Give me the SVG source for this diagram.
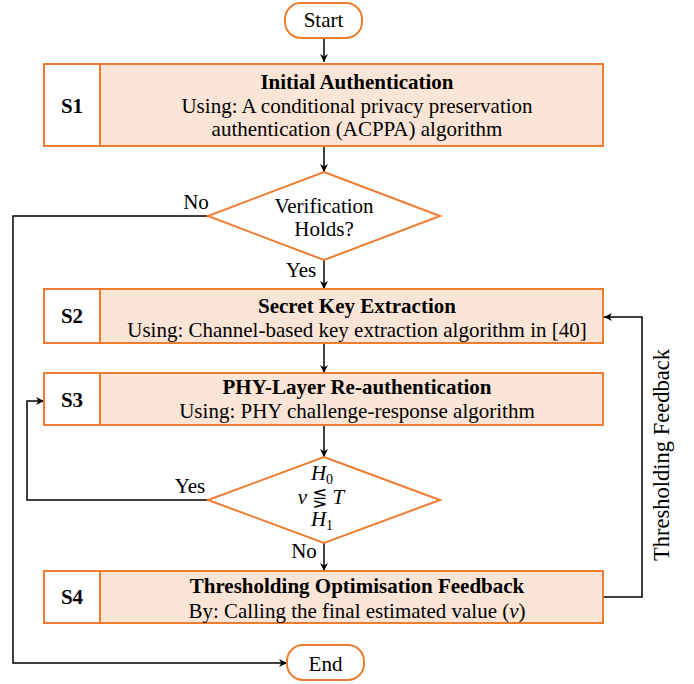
<svg xmlns="http://www.w3.org/2000/svg" width="694" height="684" viewBox="0 0 694 684">
<style>
text{font-family:"Liberation Serif","Times New Roman",serif;font-size:21px;fill:#000}
.b{font-weight:bold}
.m{text-anchor:middle}
.box{fill:#FBE5D6;stroke:#ED7D31;stroke-width:2}
.lab{fill:#fff;stroke:#ED7D31;stroke-width:2}
.term{fill:#fff;stroke:#ED7D31;stroke-width:2}
.dia{fill:#fff;stroke:#ED7D31;stroke-width:2}
.c{fill:none;stroke:#000;stroke-width:1.5}
.i{font-style:italic}
.sym{font-family:"DejaVu Serif","DejaVu Sans",serif;font-size:18px}
</style>
<defs>
<marker id="ar" viewBox="0 0 10 10" refX="10" refY="5" markerWidth="8" markerHeight="8" orient="auto" markerUnits="userSpaceOnUse">
<path d="M0,0 L10,5 L0,10 L3,5 z" fill="#000"/>
</marker>
</defs>
<g id="connectors">
<path class="c" d="M324,38 V62" marker-end="url(#ar)"/>
<path class="c" d="M324,146 V172" marker-end="url(#ar)"/>
<path class="c" d="M324,260 V289" marker-end="url(#ar)"/>
<path class="c" d="M324,343 V373" marker-end="url(#ar)"/>
<path class="c" d="M324,425 V457" marker-end="url(#ar)"/>
<path class="c" d="M324,543 V571" marker-end="url(#ar)"/>
<path class="c" d="M208,216 H13 V663 H287" marker-end="url(#ar)"/>
<path class="c" d="M208,500 H27 V401 H44" marker-end="url(#ar)"/>
<path class="c" d="M603,597 H642 V317 H604" marker-end="url(#ar)"/>
<text x="196" y="209" class="m">No</text>
<text x="301" y="277" class="m">Yes</text>
<text x="190" y="493" class="m">Yes</text>
<text x="304" y="558" class="m">No</text>
<text class="m" font-size="22.5" style="font-size:22.5px" transform="translate(669,455) rotate(-90)">Thresholding Feedback</text>
</g>
<g id="start">
<rect class="term" x="285" y="3" width="77" height="35" rx="16"/>
<text x="323.5" y="27" class="m">Start</text>
</g>
<g id="s1">
<rect class="box" x="44" y="64" width="559" height="82"/>
<rect class="lab" x="44" y="64" width="56" height="82"/>
<text x="72" y="113" class="m b">S1</text>
<text x="357" y="89" class="m b">Initial Authentication</text>
<text x="357" y="113" class="m">Using: A conditional privacy preservation</text>
<text x="357" y="136" class="m">authentication (ACPPA) algorithm</text>
</g>
<g id="d1">
<path class="dia" d="M324,172 L440,216 L324,260 L208,216 z"/>
<text x="324" y="213" class="m">Verification</text>
<text x="324" y="236" class="m">Holds?</text>
</g>
<g id="s2">
<rect class="box" x="44" y="289" width="559" height="54"/>
<rect class="lab" x="44" y="289" width="56" height="54"/>
<text x="72" y="323" class="m b">S2</text>
<text x="357" y="313" class="m b">Secret Key Extraction</text>
<text x="357" y="337" class="m">Using: Channel-based key extraction algorithm in [40]</text>
</g>
<g id="s3">
<rect class="box" x="44" y="373" width="559" height="52"/>
<rect class="lab" x="44" y="373" width="56" height="52"/>
<text x="72" y="407" class="m b">S3</text>
<text x="357" y="394" class="m b">PHY-Layer Re-authentication</text>
<text x="357" y="418" class="m">Using: PHY challenge-response algorithm</text>
</g>
<g id="d2">
<path class="dia" d="M324,457 L440,500 L324,543 L208,500 z"/>
<text x="322" y="480" class="m"><tspan class="i">H</tspan><tspan font-size="14" style="font-size:14px" dy="4">0</tspan></text>
<text x="321" y="504" class="m"><tspan class="i">v</tspan> <tspan class="sym">⋚</tspan> <tspan class="i">T</tspan></text>
<text x="322" y="526" class="m"><tspan class="i">H</tspan><tspan font-size="14" style="font-size:14px" dy="4">1</tspan></text>
</g>
<g id="s4">
<rect class="box" x="44" y="571" width="559" height="52"/>
<rect class="lab" x="44" y="571" width="56" height="52"/>
<text x="72" y="604" class="m b">S4</text>
<text x="357" y="593" class="m b">Thresholding Optimisation Feedback</text>
<text x="357" y="618" class="m">By: Calling the final estimated value (<tspan class="i">v</tspan>)</text>
</g>
<g id="end">
<rect class="term" x="287" y="645" width="77" height="35" rx="16"/>
<text x="325.5" y="671" class="m">End</text>
</g>
</svg>
